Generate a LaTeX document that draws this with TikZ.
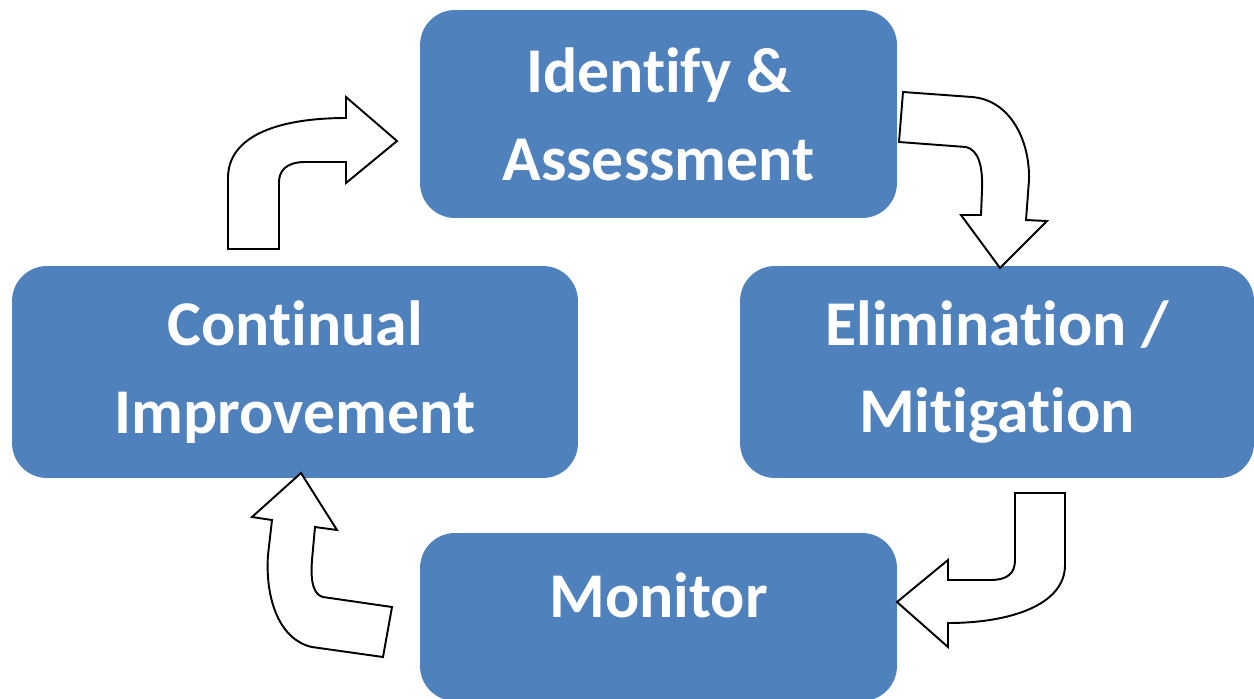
\documentclass[tikz,border=0pt]{standalone}
\usepackage{fontspec}
\setmainfont[Ligatures={NoCommon}]{Carlito}
\definecolor{boxblue}{HTML}{4F81BD}
\begin{document}
\begin{tikzpicture}[x=0.02cm,y=-0.02cm,
  stagebox/.style={draw=none,fill=boxblue,rounded corners=0.7cm,inner sep=0pt,rectangle},
  stagetext/.style={text=white,align=center,font=\fontsize{36.3}{50}\selectfont\bfseries},
  bentarrow/.style={draw=black,fill=white,line width=1.1pt,line join=miter}]
\useasboundingbox (0,0) rectangle (1254,698);
\clip (0,0) rectangle (1254,698);
\fill[white] (0,0) rectangle (1254,698);
% boxes
\node[stagebox,minimum width=9.54cm,minimum height=4.16cm] (ident) at (658.5,114) {};
\node[stagebox,minimum width=10.28cm,minimum height=4.24cm] (elim) at (997,372) {};
\node[stagebox,minimum width=11.32cm,minimum height=4.24cm] (cont) at (295,372) {};
\node[stagebox,minimum width=9.54cm,minimum height=3.36cm] (mon) at (658.5,617) {};
% texts
\node[stagetext] (identt) at (ident.center) {Identify \&\\Assessment};
\node[stagetext] (elimt) at (elim.center) {Elimination /\\Mitigation};
\node[stagetext] (contt) at (cont.center) {Continual\\Improvement};
\node[stagetext] (mont) at (658.5,595) {Monitor};
% arrow: continual -> identify
\draw[bentarrow] (228,249) -- (228,178) .. controls (228,135) and (280,118) .. (346,118)
  -- (346,97) -- (397,141) -- (346,183) -- (346,162) -- (305,162)
  .. controls (285,162) and (279,172) .. (279,182) -- (279,249) -- cycle;
% arrow: identify -> elimination
\draw[bentarrow] (903,92) -- (972,97) .. controls (1010,100) and (1030,140) .. (1029,180)
  -- (1026,220) -- (1047,221) -- (1000,268) -- (961,215) -- (981,215)
  -- (982,190) .. controls (983,165) and (978,150) .. (966,147) -- (899,142) -- cycle;
% arrow: elimination -> monitor
\draw[bentarrow] (1015,493) -- (1065,493) -- (1065,565) .. controls (1065,605) and (1010,623) .. (948,623)
  -- (948,647) -- (897,602) -- (948,560) -- (948,580) -- (990,580)
  .. controls (1008,580) and (1015,573) .. (1015,560) -- cycle;
% arrow: monitor -> continual
\draw[bentarrow] (301,473) -- (337,530) -- (315,527) -- (312,560)
  .. controls (310,585) and (315,595) .. (323,597) -- (392,607) -- (383,657) -- (312,647)
  .. controls (280,640) and (265,600) .. (268,555) -- (272,520) -- (252,517) -- cycle;
\end{tikzpicture}
\end{document}
